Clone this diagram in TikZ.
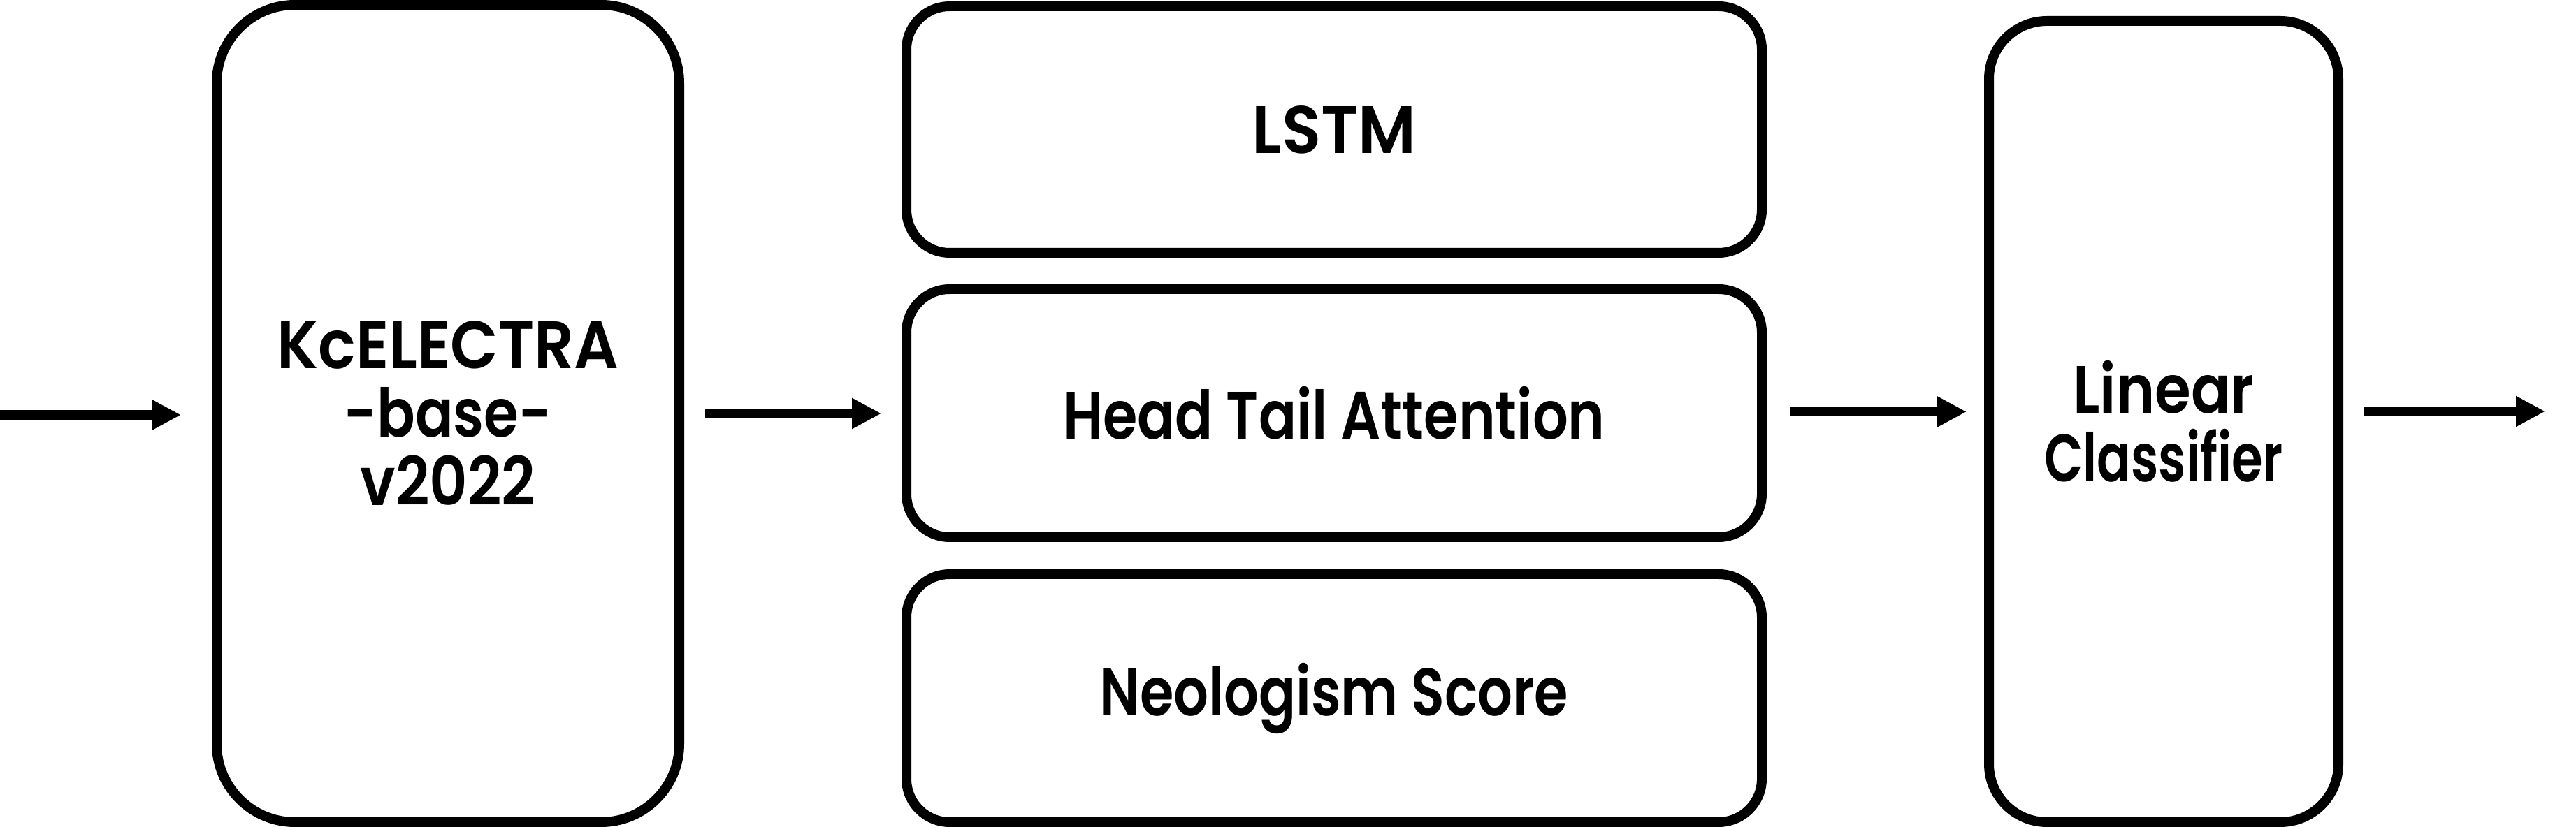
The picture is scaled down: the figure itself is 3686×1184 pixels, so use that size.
\documentclass[tikz,border=0pt]{standalone}
\usepackage{graphicx}
\usepackage{fontspec}
\setmainfont{Poppins}
\newfontfamily\labfont[FakeStretch=0.8]{Poppins SemiBold}
\newcommand\wx[2]{\scalebox{#1}[1]{#2}}
\usetikzlibrary{arrows.meta}
\begin{document}
\begin{tikzpicture}[x=0.25pt,y=-0.25pt,
  blk/.style={draw, line width=3.5pt, inner sep=0pt, align=center,
    font=\labfont\fontsize{24}{24.5}\selectfont},
  arr/.style={line width=3.4pt, -{Triangle[length=10.5pt,width=10.3pt]}}]
\useasboundingbox (0,0) rectangle (3686,1184);
\node[blk, rounded corners=28pt, minimum width=165.5pt, minimum height=292.5pt] (kc) at (641,592) {\wx{1.16}{KcELECTRA}\\\wx{1.05}{-base-}\\\wx{1.1}{v2022}};
\node[blk, rounded corners=15.5pt, minimum width=306pt, minimum height=88.25pt] (lstm) at (1909,185.5) {\wx{1.2}{LSTM}};
\node[blk, rounded corners=15.5pt, minimum width=306pt, minimum height=88.75pt] (hta) at (1909,591.5) {\wx{1.04}{Head Tail Attention}};
\node[blk, rounded corners=15.5pt, minimum width=306pt, minimum height=88.75pt] (neo) at (1909,999.5) {\wx{1.02}{Neologism Score}};
\node[blk, rounded corners=20.75pt, minimum width=125pt, minimum height=286.75pt] (lin) at (3096,603.5) {\wx{1.09}{Linear}\\\wx{0.94}{Classifier}};
\coordinate (in) at (0,594);
\coordinate (out) at (3642,589);
\draw[arr, shorten >=11pt] (in) -- (in -| kc.west);
\draw[arr, shorten <=7.6pt, shorten >=7.2pt] (kc.east) -- (kc.east -| hta.west);
\draw[arr, shorten <=8.5pt, shorten >=6.25pt] ([yshift=0.5pt]hta.east) -- ([yshift=0.5pt]hta.east -| lin.west);
\draw[arr, shorten <=7.5pt] (out -| lin.east) -- (out);
\end{tikzpicture}
\end{document}
